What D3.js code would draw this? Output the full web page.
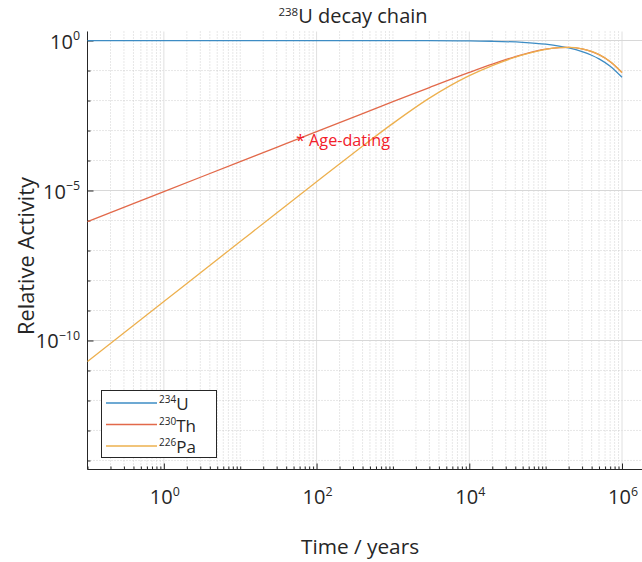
<!DOCTYPE html>
<html>
<head>
<meta charset="utf-8">
<script src="https://cdn.jsdelivr.net/npm/d3@7"></script>
<style>
  body { margin: 0; background: #fff; }
  text { font-family: "Open Sans", sans-serif; fill: #262626; }
</style>
</head>
<body>
<div id="chart"></div>
<script>
// values
const years = [0.1, 1, 10, 30, 100, 300, 1000, 3000, 1e4, 2e4, 5e4, 1e5, 1.5e5, 2e5, 3e5, 4e5, 5e5, 7e5, 1e6];
const u234 = [1, 0.999997, 0.999972, 0.999915, 0.999718, 0.999153, 0.997181, 0.991566, 0.972161, 0.945097,
  0.868339, 0.754020, 0.654745, 0.568542, 0.428690, 0.323240, 0.243729, 0.138570, 0.059404];
const th230 = [9.195e-7, 9.195e-6, 9.195e-5, 2.7586e-4, 9.1947e-4, 2.7537e-3, 9.140e-3, 0.027094, 0.086607, 0.163195,
  0.341876, 0.512740, 0.581555, 0.591058, 0.527177, 0.429997, 0.337184, 0.197657, 0.085579];
const pa226 = [1.992e-11, 1.992e-9, 1.989e-7, 1.785e-6, 1.962e-5, 1.714e-4, 1.729e-3, 0.011998, 0.067556, 0.146116,
  0.330345, 0.507406, 0.579878, 0.591468, 0.529252, 0.432266, 0.339176, 0.198919, 0.086139];

const seriesNames = ['234|U', '230|Th', '226|Pa'];
const seriesColors = ['#3d8cc4', '#e2694a', '#edb04e'];
const xMajor = [1, 1e2, 1e4, 1e6];
const xMajorExp = ['0', '2', '4', '6'];
const yMajor = [1, 1e-5, 1e-10];
const yMajorExp = ['0', '\u22125', '\u221210'];

const W = 642, H = 562;
const pLeft = 87.5, pRight = 645, pTop = 31.5, pBottom = 469.5;

const svg = d3.select('#chart').append('svg')
    .attr('width', W)
    .attr('height', H);

const x = d3.scaleLog().domain([0.1, 2e6]).range([pLeft, pRight]);
const y = d3.scaleLog().domain([5e-15, 2]).range([pBottom, pTop]);

// minor positions
const xMinor = [];
for (let e = -1; e <= 6; e++) {
    for (let m = 1; m <= 9; m++) {
        const v = m * Math.pow(10, e);
        if (v < 0.1 || v > 2e6) continue;
        if (xMajor.includes(v)) continue;
        xMinor.push(v);
    }
}
const yMinor = [];
for (let e = -14; e <= 0; e++) {
    const v = Math.pow(10, e);
    if (!yMajor.includes(v)) yMinor.push(v);
}

const grid = svg.append('g');
// minor grid (dotted)
grid.selectAll('.vx').data(xMinor).enter().append('line')
    .attr('x1', d => x(d)).attr('x2', d => x(d))
    .attr('y1', pTop).attr('y2', pBottom)
    .attr('stroke', '#c4c4c4').attr('stroke-width', 0.8)
    .attr('stroke-dasharray', '1,2');
grid.selectAll('.hy').data(yMinor).enter().append('line')
    .attr('x1', pLeft).attr('x2', W)
    .attr('y1', d => y(d)).attr('y2', d => y(d))
    .attr('stroke', '#c4c4c4').attr('stroke-width', 0.8)
    .attr('stroke-dasharray', '1,2');
// major grid
grid.selectAll('.vX').data(xMajor).enter().append('line')
    .attr('x1', d => x(d)).attr('x2', d => x(d))
    .attr('y1', pTop).attr('y2', pBottom)
    .attr('stroke', '#e0e0e0').attr('stroke-width', 1);
grid.selectAll('.hY').data(yMajor).enter().append('line')
    .attr('x1', pLeft).attr('x2', W)
    .attr('y1', d => y(d)).attr('y2', d => y(d))
    .attr('stroke', '#d8d8d8').attr('stroke-width', 1);

// axes
svg.append('g')
    .attr('transform', `translate(0,${pBottom})`)
    .call(d3.axisBottom(x).tickValues(xMinor).tickSize(-3).tickSizeOuter(0).tickFormat(''))
    .call(g => g.select('.domain').remove())
    .selectAll('line').attr('stroke', '#262626');
svg.append('g')
    .attr('transform', `translate(0,${pBottom})`)
    .call(d3.axisBottom(x).tickValues(xMajor).tickSize(-6).tickSizeOuter(0).tickFormat(''))
    .call(g => g.select('.domain').attr('stroke', '#262626').attr('d', `M${pLeft},0H${W}`))
    .selectAll('line').attr('stroke', '#262626');
svg.append('g')
    .attr('transform', `translate(${pLeft},0)`)
    .call(d3.axisLeft(y).tickValues(yMinor).tickSize(-3).tickSizeOuter(0).tickFormat(''))
    .call(g => g.select('.domain').remove())
    .selectAll('line').attr('stroke', '#262626');
svg.append('g')
    .attr('transform', `translate(${pLeft},0)`)
    .call(d3.axisLeft(y).tickValues(yMajor).tickSize(-6).tickSizeOuter(0).tickFormat(''))
    .call(g => g.select('.domain').attr('stroke', '#262626').attr('d', `M0,${pTop}V${pBottom}`))
    .selectAll('line').attr('stroke', '#262626');

// power-of-ten labels
function powLabel(g, base, exp, size) {
    g.append('tspan').attr('font-size', size).text(base);
    g.append('tspan').attr('font-size', size * 0.62).attr('dy', -size * 0.42).text(exp);
}
xMajor.forEach((v, i) => {
    const t = svg.append('text')
        .attr('x', x(v) + 1).attr('y', 504)
        .attr('text-anchor', 'middle');
    powLabel(t, '10', xMajorExp[i], 20);
});
yMajor.forEach((v, i) => {
    const t = svg.append('text')
        .attr('x', 80).attr('y', y(v) + 8)
        .attr('text-anchor', 'end');
    powLabel(t, '10', yMajorExp[i], 20);
});

// lines
const seriesValues = [u234, th230, pa226];
const line = d3.line()
    .x(d => x(d[0]))
    .y(d => y(d[1]))
    .curve(d3.curveMonotoneX);
seriesValues.forEach((vals, i) => {
    svg.append('path')
        .datum(years.map((t, j) => [t, vals[j]]))
        .attr('fill', 'none')
        .attr('stroke', seriesColors[i])
        .attr('stroke-width', 1.3)
        .attr('d', line);
});

// annotation
svg.append('text')
    .attr('x', 296).attr('y', 146)
    .attr('font-size', 16.2)
    .style('fill', '#f2202a')
    .text('* Age-dating');

// title
const title = svg.append('text')
    .attr('x', 353).attr('y', 23)
    .attr('text-anchor', 'middle');
title.append('tspan').attr('font-size', 11.5).attr('dy', -7).text('238');
title.append('tspan').attr('font-size', 20).attr('dy', 7).text('U decay chain');

// axis labels
svg.append('text')
    .attr('x', 360).attr('y', 554)
    .attr('text-anchor', 'middle')
    .attr('font-size', 20.8)
    .text('Time / years');
svg.append('text')
    .attr('transform', 'translate(34,256) rotate(-90)')
    .attr('text-anchor', 'middle')
    .attr('font-size', 21.8)
    .text('Relative Activity');

// legend
const legend = svg.append('g');
legend.append('rect')
    .attr('x', 101.5).attr('y', 390.5)
    .attr('width', 115).attr('height', 67)
    .attr('fill', '#fff')
    .attr('stroke', '#262626')
    .attr('stroke-width', 1);
seriesNames.forEach((name, i) => {
    const ly = 403 + i * 21.5;
    legend.append('line')
        .attr('x1', 106).attr('x2', 157)
        .attr('y1', ly).attr('y2', ly)
        .attr('stroke', seriesColors[i])
        .attr('stroke-width', 1.3);
    const [sup, sym] = name.split('|');
    const t = legend.append('text').attr('x', 159).attr('y', ly + 7);
    t.append('tspan').attr('font-size', 10).attr('dy', -7).text(sup);
    t.append('tspan').attr('font-size', 17).attr('dy', 7).text(sym);
});
</script>
</body>
</html>
